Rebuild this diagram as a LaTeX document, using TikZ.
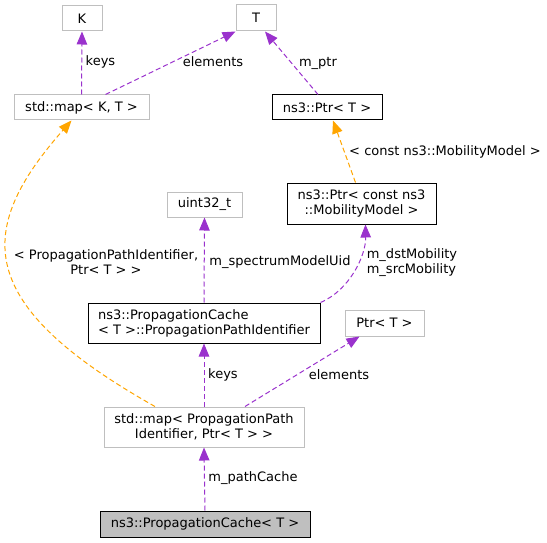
\documentclass[tikz,border=0pt]{standalone}
\usepackage{fontspec}
\setmainfont{DejaVu Sans}
\usepackage{tikz}
\usetikzlibrary{arrows.meta}
\definecolor{doxpurple}{RGB}{154,50,205}
\definecolor{doxorange}{RGB}{255,165,0}
\definecolor{doxgrey}{RGB}{191,191,191}

\begin{document}
\begin{tikzpicture}[x=1pt,y=-1pt,
    box/.style={draw=doxgrey,line width=1pt,inner sep=0pt,align=center,
        font=\fontsize{13}{15}\selectfont},
    realbox/.style={box,draw=black},
    usage/.style={doxpurple,line width=1pt,dash pattern=on 5pt off 3pt,
        -{Triangle[length=13pt,width=10.5pt]}},
    tmpl/.style={usage,doxorange},
    lbl/.style={inner sep=0pt,align=center,font=\fontsize{13}{15}\selectfont}]
    \useasboundingbox (0,0) rectangle (547,543);

    % Boxes
    \node[box,minimum width=40pt,minimum height=25pt] (K) at (82,18.5) {K};
    \node[box,minimum width=40pt,minimum height=26pt] (T) at (256,18) {T};
    \node[box,minimum width=135pt,minimum height=25pt] (mapKT) at (81.5,107.5) {std::map< K, T >};
    \node[realbox,minimum width=110pt,minimum height=25pt] (ptrT) at (327,107.5) {ns3::Ptr< T >};
    \node[realbox,minimum width=149pt,minimum height=41pt] (ptrMM) at (361.5,203.5)
        {ns3::Ptr< const ns3\\::MobilityModel >};
    \node[box,minimum width=75pt,minimum height=25pt] (uint) at (204.5,204.5) {uint32\_t};
    \node[realbox,minimum width=232pt,minimum height=40pt,align=left] (pathId) at (204,323)
        {ns3::PropagationCache\\< T >::PropagationPathIdentifier};
    \node[box,minimum width=79pt,minimum height=26pt] (ptrPlain) at (384.5,323) {Ptr< T >};
    \node[box,minimum width=200pt,minimum height=40pt] (mapPath) at (204,427)
        {std::map< PropagationPath\\Identifier, Ptr< T > >};
    \node[realbox,fill=doxgrey,minimum width=210pt,minimum height=26pt] (cache) at (205,524)
        {ns3::PropagationCache< T >};

    % Edges
    \draw[usage] (mapKT.north) -- (K.south);
    \draw[usage] ([xshift=24pt]mapKT.north) -- (T.south west);
    \draw[usage] ([xshift=-9pt]ptrT.north) -- ([xshift=9pt]T.south);
    \draw[tmpl] ([xshift=-6pt]ptrMM.north) -- ([xshift=6pt]ptrT.south);
    \draw[usage] (pathId.north east) .. controls (350,290) and (366,255) .. ([xshift=4pt]ptrMM.south);
    \draw[usage] (pathId.north) -- (uint.south);
    \draw[usage] (mapPath.north) -- (pathId.south);
    \draw[usage] ([xshift=41pt]mapPath.north) -- ([xshift=-25pt]ptrPlain.south);
    \draw[usage] (cache.north) -- (mapPath.south);
    \draw[tmpl] ([xshift=-49pt]mapPath.north) .. controls (-27,304) and (-25,230)
        .. ([xshift=-10pt]mapKT.south);

    % Labels
    \node[lbl] (lKeysTop) at (100.5,62) {keys};
    \node[lbl] (lElemTop) at (213,62) {elements};
    \node[lbl] (lPtr) at (318,63) {m\_ptr};
    \node[lbl] (lConst) at (445,152) {< const ns3::MobilityModel >};
    \node[lbl,align=left] (lMob) at (412,263) {m\_dstMobility\\m\_srcMobility};
    \node[lbl] (lUid) at (280,262) {m\_spectrumModelUid};
    \node[lbl] (lPair) at (106,262) {< PropagationPathIdentifier,\\Ptr< T > >};
    \node[lbl] (lKeys) at (223,375) {keys};
    \node[lbl] (lElem) at (339,375) {elements};
    \node[lbl] (lCache) at (253,478) {m\_pathCache};
\end{tikzpicture}
\end{document}
